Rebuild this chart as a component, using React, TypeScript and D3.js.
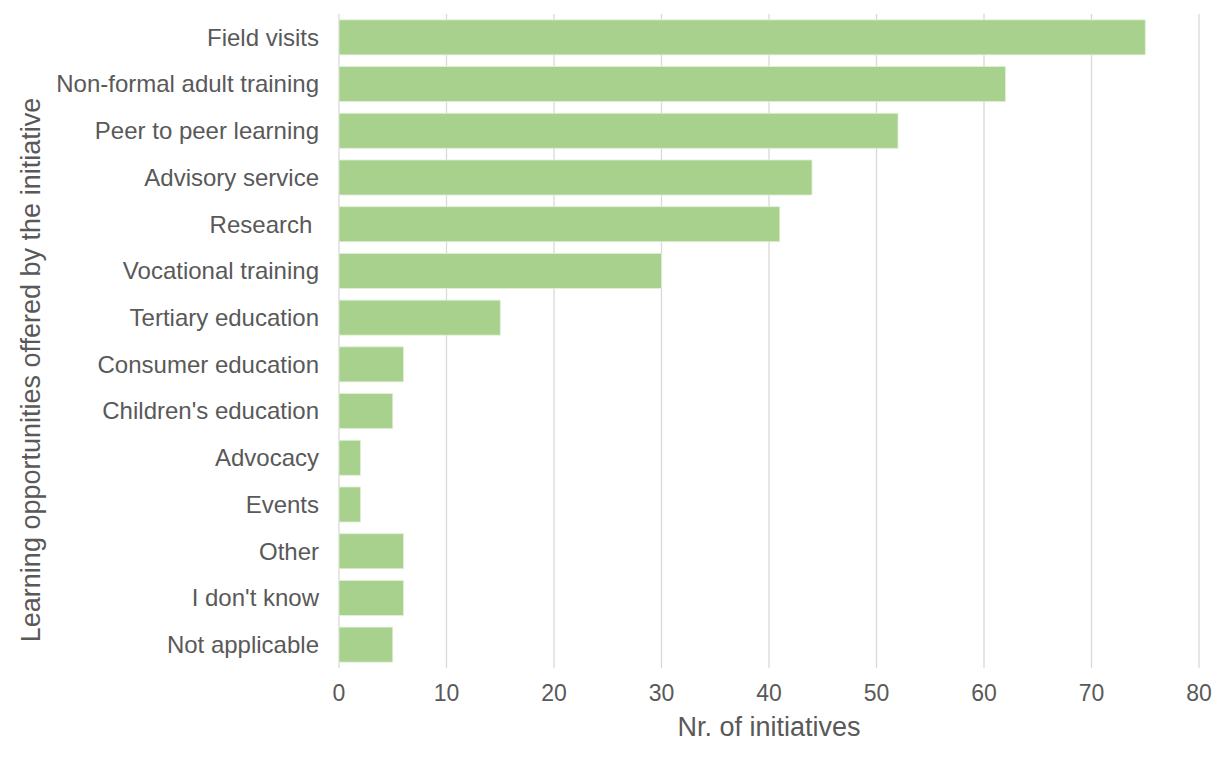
import React from "react";
import * as d3 from "d3";

const categories = [
  "Field visits",
  "Non-formal adult training",
  "Peer to peer learning",
  "Advisory service",
  "Research ",
  "Vocational training",
  "Tertiary education",
  "Consumer education",
  "Children's education",
  "Advocacy",
  "Events",
  "Other",
  "I don't know",
  "Not applicable",
];
const values = [75, 62, 52, 44, 41, 30, 15, 6, 5, 2, 2, 6, 6, 5];
const xTicks = [0, 10, 20, 30, 40, 50, 60, 70, 80];

const width = 1232;
const height = 766;
const margin = { top: 14, right: 33, bottom: 98, left: 339 };
const font = "'Liberation Sans', Arial, Helvetica, sans-serif";
const textColor = "#595959";

const App: React.FC = () => {
  const innerW = width - margin.left - margin.right;
  const innerH = height - margin.top - margin.bottom;

  const x = d3.scaleLinear().domain([0, 80]).range([0, innerW]);
  const y = d3
    .scaleBand<string>()
    .domain(categories)
    .range([0, innerH])
    .paddingInner(0.25)
    .paddingOuter(0.125);

  return (
    <div style={{ position: "absolute", left: 0, top: 0 }}>
      <svg width={width} height={height} style={{ display: "block", background: "#fff" }}>
        <g transform={`translate(${margin.left},${margin.top})`}>
          {xTicks.map((t) => (
            <line
              key={t}
              x1={x(t)}
              x2={x(t)}
              y1={0}
              y2={innerH}
              stroke="#d9d9d9"
              strokeWidth={1.3}
            />
          ))}
          {categories.map((c, i) => (
            <rect
              key={c}
              x={x(0)}
              y={y(c)}
              width={x(values[i]) - x(0)}
              height={y.bandwidth()}
              fill="#a9d18e"
              stroke="#e2f0d9"
              strokeWidth={0.8}
            />
          ))}
          {categories.map((c) => (
            <text
              key={c}
              x={-20}
              y={(y(c) ?? 0) + y.bandwidth() / 2}
              dy="0.35em"
              textAnchor="end"
              fontFamily={font}
              fontSize={24}
              fill={textColor}
              style={{ whiteSpace: "pre" }}
            >
              {c}
            </text>
          ))}
          {xTicks.map((t) => (
            <text
              key={t}
              x={x(t)}
              y={innerH + 25}
              dy="0.35em"
              textAnchor="middle"
              fontFamily={font}
              fontSize={23}
              fill={textColor}
            >
              {t}
            </text>
          ))}
          <text
            x={innerW / 2}
            y={innerH + 59}
            dy="0.35em"
            textAnchor="middle"
            fontFamily={font}
            fontSize={27}
            fill={textColor}
          >
            Nr. of initiatives
          </text>
        </g>
        <text
          transform={`translate(31,${margin.top + innerH / 2 + 29}) rotate(-90)`}
          dy="0.35em"
          textAnchor="middle"
          fontFamily={font}
          fontSize={27}
          fill={textColor}
        >
          Learning opportunities offered by the initiative
        </text>
      </svg>
    </div>
  );
};

export default App;
